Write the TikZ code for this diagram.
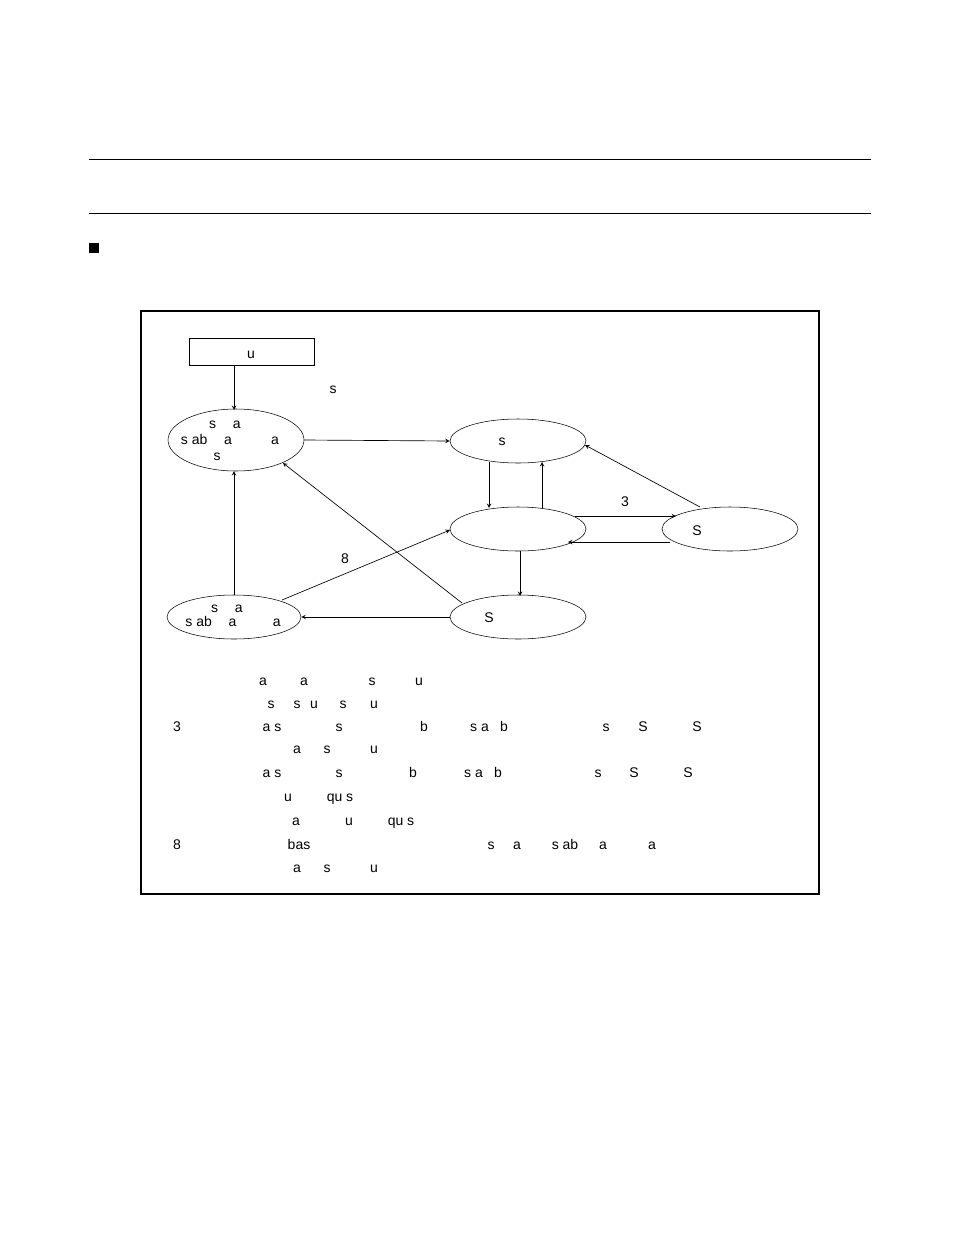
\documentclass[tikz,border=0pt]{standalone}
\usepackage{fontspec}
\setmainfont{Liberation Sans}
\usetikzlibrary{shapes.geometric}
\begin{document}
\begin{tikzpicture}[x=0.75pt,y=-0.75pt,
 every node/.style={font=\fontsize{10.5}{12}\selectfont,inner sep=0pt},
 tx/.style={anchor=base},
 ell/.style={draw,ellipse,minimum width=136*0.75pt,minimum height=44*0.75pt},
 arr/.style={->,>=stealth,line width=0.5pt}]
\useasboundingbox (0,0) rectangle (954,1235);
\draw[line width=0.5pt] (89,159)--(871,159) (89,213)--(871,213);
\fill (89,243) rectangle (99,253);
\draw[line width=0.8pt] (141,311) rectangle (819,894);
\node[draw,minimum width=125*0.75pt,minimum height=27*0.75pt] (box) at (252,352) {};
\node[tx] at (251,358) {u};
\node[tx] at (333,393) {s};
\node[ell,minimum height=62*0.75pt] (A) at (236,440) {};
\node[tx] at (225,428) {s\hspace{1.2em}a};
\node[tx] at (230,444) {s ab\hspace{1.2em}a\hspace{2.8em}a};
\node[tx] at (217,460) {s};
\node[ell] (B) at (518,441) {}; \node[tx] at (502,445) {s};
\node[ell] (C) at (518,529) {};
\node[ell] (D) at (730,529) {}; \node[tx] at (697,535) {S};
\node[ell] (E) at (518,617) {}; \node[tx] at (489,622) {S};
\node[ell,minimum width=134*0.75pt] (F) at (234,617) {};
\node[tx] at (227,612) {s\hspace{1.2em}a};
\node[tx] at (233,626) {s ab\hspace{1.2em}a\hspace{2.6em}a};
\draw[arr] (box.south -| 234,0) -- (234,410);
\draw[arr] (304,440) -- (B.west);
\draw[arr] (489,462) -- (489,508);
\draw[arr] (542,508) -- (542,462);
\draw[arr] (700,507) -- (585,445);
\draw[arr] (575,516) -- (676,516);
\node[tx] at (625,506) {3};
\draw[arr] (670,542) -- (568,542);
\draw[arr] (520,551) -- (520,596);
\draw[arr] (E.west) -- (F.east);
\draw[arr] (F.north) -- (234,471);
\draw[arr] (282,600) -- (450,530);
\node[tx] at (345,563) {8};
\draw[arr] (462,603) -- (283,463);
\foreach \x/\y/\t in {263/680/a,304/680/a,372/680/s,419/680/u,
 271/703/s,297/703/s,314/703/u,343/703/s,374/703/u,
 177/726/3,272/726/{a s},339/726/s,424/726/b,489/726/{s a\hspace{0.8em}b},606/726/s,643/726/S,697/726/S,
 297/748/a,327/748/s,374/748/u,
 272/772/{a s},339/772/s,413/772/b,483/772/{s a\hspace{0.8em}b},598/772/s,634/772/S,688/772/S,
 288/796/u,340/796/{qu s},
 296/820/a,349/820/u,401/820/{qu s},
 177/844/8,299/844/bas,491/844/s,517/844/a,565/844/{s ab},603/844/a,652/844/a,
 297/867/a,327/867/s,374/867/u}
 \node[tx] at (\x,\y+5) {\t};
\end{tikzpicture}
\end{document}
